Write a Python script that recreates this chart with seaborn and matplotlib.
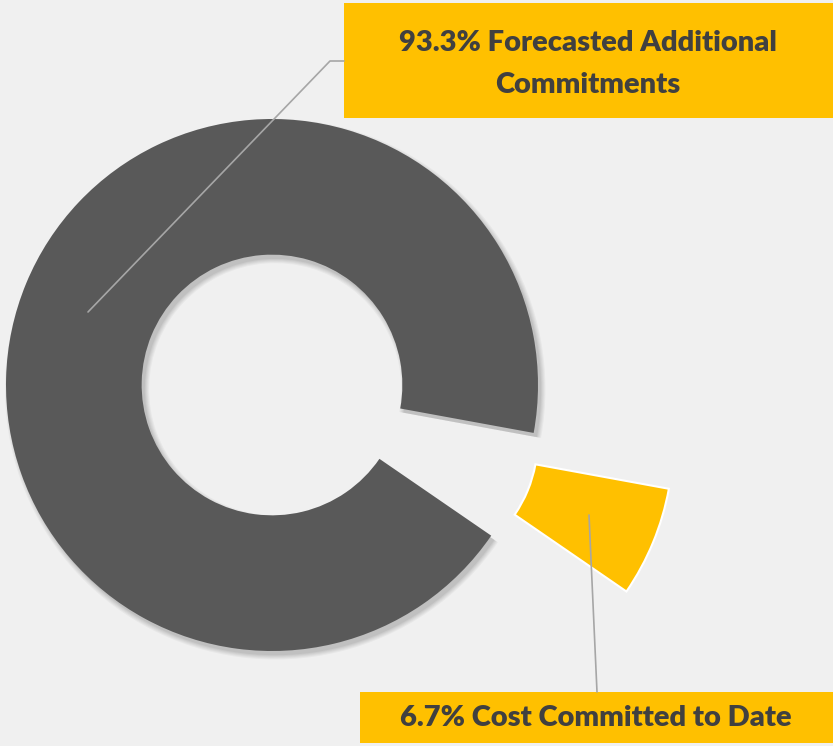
import numpy as np
import matplotlib
matplotlib.use("Agg")
import matplotlib.pyplot as plt
import seaborn as sns
from matplotlib.patches import Rectangle

# data
labels = ["Cost Committed to Date", "Forecasted Additional Commitments"]
shares = [6.7, 93.3]
colors = ["#FFC000", "#595959"]

sns.set_theme(style="white")
plt.rcParams['font.family'] = ['Lato', 'DejaVu Sans']

W, H = 833, 746
bg = "#F0F0F0"
fig = plt.figure(figsize=(W / 100, H / 100), dpi=100, facecolor=bg)
ax = fig.add_axes([0, 0, 1, 1])
ax.set_facecolor(bg)

# donut centre (px) and outer radius (px)
cx, cy, R = 272, 385, 266
start = -34.5
explode = [0.55, 0]

# soft shadow under the grey ring
for k, a in enumerate([0.035, 0.035, 0.04, 0.045, 0.05]):
    ax.pie([shares[1], shares[0]], startangle=start + 360 * shares[0] / 100,
           colors=["black", "none"], radius=1.0 + 0.004 * (4 - k),
           center=(0.012, -0.016),
           wedgeprops=dict(width=0.51 + 0.008 * (4 - k), alpha=a, linewidth=0))

wedges, _ = ax.pie(shares, startangle=start, colors=colors, explode=explode,
                   radius=1.0, wedgeprops=dict(width=0.51, linewidth=0))
wedges[0].set_edgecolor("white")
wedges[0].set_linewidth(1.5)

ax.set_xlim(-cx / R, (W - cx) / R)
ax.set_ylim(-(H - cy) / R, cy / R)
ax.set_aspect('equal')
ax.axis('off')

# labels
def px(x, y):
    return x / W, 1 - y / H

line_c = "#A6A6A6"
text_c = "#404040"
box_c = "#FFC000"

# leader lines
fig.add_artist(plt.Line2D(*zip(px(88, 312), px(330, 61), px(344, 61)),
                          color=line_c, lw=1.2, transform=fig.transFigure))
fig.add_artist(plt.Line2D(*zip(px(589, 515), px(597, 692)),
                          color=line_c, lw=1.2, transform=fig.transFigure))

# boxes
x0, y0 = px(344, 118)
fig.add_artist(Rectangle((x0, y0), (833 - 344) / W, (118 - 3) / H,
                         transform=fig.transFigure, facecolor=box_c, edgecolor="none"))
x0, y0 = px(360, 743)
fig.add_artist(Rectangle((x0, y0), (833 - 360) / W, (743 - 692) / H,
                         transform=fig.transFigure, facecolor=box_c, edgecolor="none"))

fig.text(*px(588, 64), f"{shares[1]:.1f}% Forecasted Additional\nCommitments",
         ha="center", va="center", fontsize=21, fontweight="heavy", color=text_c,
         linespacing=1.72)
fig.text(*px(596, 718), f"{shares[0]:.1f}% Cost Committed to Date",
         ha="center", va="center", fontsize=21, fontweight="heavy", color=text_c)

fig.savefig("out.png", dpi=100, facecolor=bg)
